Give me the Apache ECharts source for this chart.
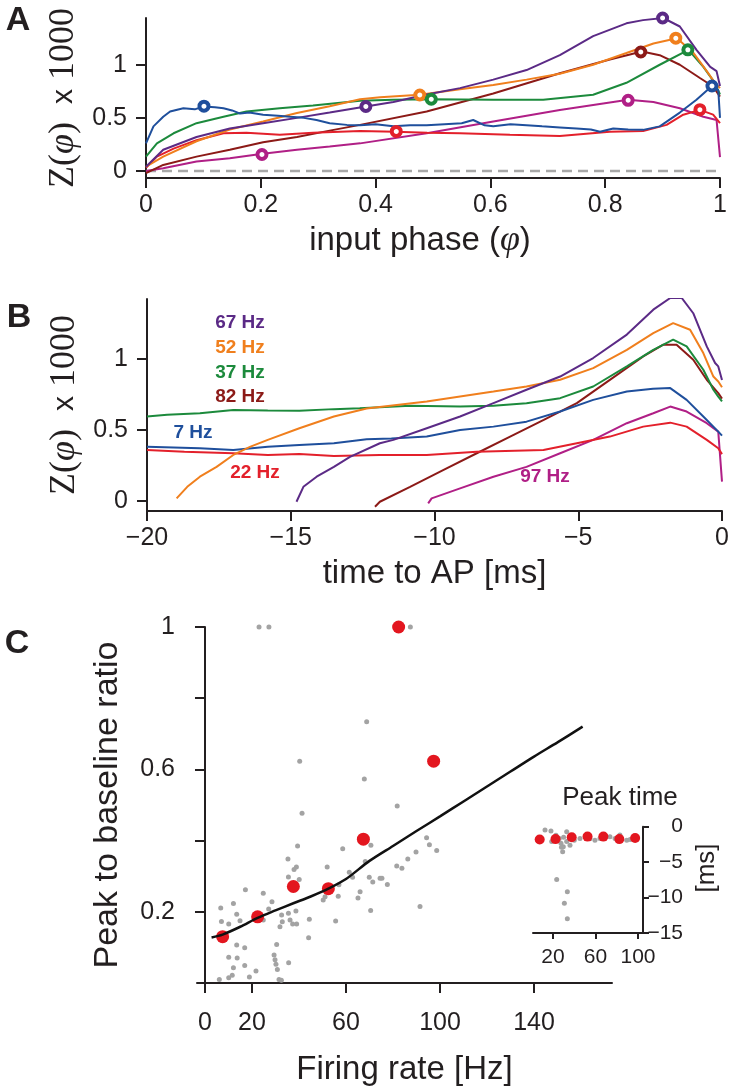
<!DOCTYPE html>
<html>
<head>
<meta charset="utf-8">
<script src="https://cdn.jsdelivr.net/npm/echarts@6/dist/echarts.min.js"></script>
<style>
html, body { margin: 0; padding: 0; background: #fff; }
#chart { width: 733px; height: 1092px; }
</style>
</head>
<body>
<div id="chart"></div>
<script>
const SANS = "'Liberation Sans', Arial, Helvetica, sans-serif"
const SERIF = "'Liberation Serif', 'Times New Roman', serif"
const INK = '#231f20'

// colours per firing rate
const BLUE = '#1f4f9c'
const RED = '#e3202b'
const GREEN = '#1c8a3c'
const ORANGE = '#f07f1d'
const PURPLE = '#5b2a86'
const BROWN = '#8c1a17'
const MAGENTA = '#b01f86'

// A: Z(phi) x 1000 against input phase, [phase, Z]
const phaseCurve7 = [[0, 0.26], [0.013, 0.42], [0.03, 0.51], [0.042, 0.56], [0.065, 0.59], [0.085, 0.58], [0.1, 0.607], [0.12, 0.6], [0.135, 0.59], [0.15, 0.57], [0.164, 0.54], [0.18, 0.55], [0.204, 0.53], [0.23, 0.52], [0.251, 0.51], [0.275, 0.5], [0.297, 0.48], [0.32, 0.45], [0.35, 0.434], [0.373, 0.43], [0.4, 0.44], [0.431, 0.42], [0.46, 0.43], [0.489, 0.43], [0.52, 0.44], [0.55, 0.45], [0.57, 0.48], [0.59, 0.43], [0.605, 0.42], [0.635, 0.44], [0.663, 0.43], [0.69, 0.42], [0.721, 0.41], [0.75, 0.4], [0.775, 0.39], [0.791, 0.37], [0.814, 0.4], [0.84, 0.39], [0.866, 0.387], [0.895, 0.42], [0.93, 0.55], [0.959, 0.67], [0.985, 0.795], [0.997, 0.76], [1, 0.5]]
const phaseCurve22 = [[0, 0.03], [0.019, 0.135], [0.048, 0.21], [0.088, 0.29], [0.135, 0.355], [0.175, 0.36], [0.233, 0.34], [0.291, 0.36], [0.373, 0.377], [0.434, 0.37], [0.49, 0.36], [0.547, 0.355], [0.634, 0.34], [0.721, 0.33], [0.808, 0.37], [0.866, 0.377], [0.907, 0.434], [0.936, 0.53], [0.965, 0.575], [0.988, 0.53], [1, 0.45]]
const phaseCurve37 = [[0, 0.135], [0.019, 0.26], [0.048, 0.355], [0.088, 0.45], [0.135, 0.51], [0.175, 0.56], [0.233, 0.59], [0.291, 0.616], [0.373, 0.66], [0.431, 0.67], [0.498, 0.676], [0.605, 0.67], [0.692, 0.67], [0.779, 0.717], [0.837, 0.83], [0.895, 1.0], [0.945, 1.14], [0.971, 0.98], [0.991, 0.83], [1, 0.72]]
const phaseCurve52 = [[0, 0.04], [0.03, 0.135], [0.088, 0.28], [0.146, 0.39], [0.204, 0.465], [0.263, 0.545], [0.32, 0.61], [0.373, 0.676], [0.408, 0.695], [0.477, 0.717], [0.547, 0.77], [0.605, 0.81], [0.663, 0.86], [0.721, 0.915], [0.779, 1.0], [0.837, 1.11], [0.884, 1.2], [0.925, 1.25], [0.954, 1.11], [0.977, 0.94], [0.991, 0.83], [1, 0.78]]
const phaseCurve67 = [[0, 0.04], [0.03, 0.2], [0.088, 0.32], [0.146, 0.4], [0.204, 0.45], [0.263, 0.5], [0.32, 0.55], [0.383, 0.607], [0.431, 0.65], [0.489, 0.72], [0.547, 0.78], [0.605, 0.86], [0.663, 0.95], [0.721, 1.09], [0.779, 1.27], [0.837, 1.39], [0.866, 1.42], [0.901, 1.44], [0.93, 1.36], [0.959, 1.14], [0.983, 0.98], [0.994, 0.94], [1, 0.8]]
const phaseCurve82 = [[0, -0.02], [0.03, 0.057], [0.088, 0.135], [0.146, 0.2], [0.204, 0.27], [0.263, 0.32], [0.32, 0.38], [0.373, 0.434], [0.489, 0.56], [0.605, 0.73], [0.721, 0.92], [0.808, 1.05], [0.864, 1.125], [0.895, 1.09], [0.93, 1.0], [0.965, 0.875], [0.988, 0.795], [1, 0.7]]
const phaseCurve97 = [[0, 0], [0.03, 0.025], [0.088, 0.09], [0.146, 0.12], [0.2, 0.16], [0.263, 0.2], [0.32, 0.23], [0.373, 0.26], [0.489, 0.355], [0.605, 0.465], [0.721, 0.575], [0.84, 0.67], [0.884, 0.65], [0.93, 0.59], [0.971, 0.51], [0.994, 0.48], [1, 0.13]]
const zeroLineA = [[0, 0], [1, 0]]

// A: open circle markers [phase, Z]
const markBlue = [[0.101, 0.61], [0.986, 0.8]]
const markMagenta = [[0.202, 0.155], [0.84, 0.665]]
const markPurple = [[0.383, 0.607], [0.9, 1.44]]
const markRed = [[0.436, 0.372], [0.965, 0.577]]
const markOrange = [[0.477, 0.715], [0.923, 1.25]]
const markGreen = [[0.497, 0.675], [0.944, 1.14]]
const markBrown = [[0.862, 1.12]]

// B: same curves against time to AP, [ms, Z]
const timeCurve7 = [[-20, 0.382], [-18.16, 0.371], [-17, 0.359], [-15.8, 0.382], [-14.7, 0.394], [-13.5, 0.406], [-12.36, 0.434], [-11.5, 0.44], [-10.27, 0.453], [-9.11, 0.5], [-7.95, 0.523], [-6.8, 0.558], [-5.63, 0.629], [-4.48, 0.711], [-3.31, 0.77], [-2.4, 0.79], [-1.8, 0.794], [-1.23, 0.711], [-0.53, 0.57], [-0.13, 0.488], [0, 0.46]]
const timeCurve22 = [[-20, 0.359], [-18.7, 0.347], [-17, 0.336], [-15.8, 0.324], [-14.7, 0.331], [-13.5, 0.317], [-11.9, 0.324], [-10.27, 0.324], [-8.53, 0.347], [-6.21, 0.359], [-5.05, 0.406], [-3.9, 0.453], [-2.74, 0.523], [-1.8, 0.551], [-1.23, 0.523], [-0.53, 0.43], [-0.13, 0.371], [0, 0.33]]
const timeCurve37 = [[-20, 0.594], [-19.3, 0.606], [-18.16, 0.617], [-17, 0.64], [-15.8, 0.636], [-14.7, 0.634], [-13.5, 0.646], [-12.6, 0.653], [-10.85, 0.669], [-9.11, 0.664], [-7.95, 0.669], [-6.8, 0.688], [-5.63, 0.723], [-4.48, 0.805], [-3.31, 0.946], [-2.39, 1.063], [-1.7, 1.134], [-1.23, 1.087], [-0.65, 0.923], [-0.3, 0.782], [-0.13, 0.734], [0, 0.7]]
const timeCurve52 = [[-18.97, 0.019], [-18.6, 0.1], [-18.16, 0.171], [-17.58, 0.24], [-17, 0.324], [-16.4, 0.382], [-15.8, 0.43], [-14.7, 0.512], [-13.5, 0.594], [-12.36, 0.65], [-10.27, 0.7], [-7.95, 0.77], [-6.8, 0.805], [-5.63, 0.852], [-4.48, 0.934], [-3.31, 1.063], [-2.39, 1.18], [-1.7, 1.25], [-1.11, 1.204], [-0.65, 1.04], [-0.3, 0.875], [-0.13, 0.84], [0, 0.8]]
const timeCurve67 = [[-14.8, -0.005], [-14.56, 0.1], [-14.1, 0.171], [-13.5, 0.24], [-12.94, 0.31], [-11.9, 0.406], [-11.43, 0.43], [-10.27, 0.512], [-9.11, 0.594], [-7.95, 0.688], [-6.8, 0.782], [-5.63, 0.875], [-4.48, 1.005], [-3.31, 1.17], [-2.39, 1.345], [-1.8, 1.427], [-1.4, 1.427], [-1.0, 1.32], [-0.53, 1.087], [-0.24, 0.97], [-0.13, 0.946], [0, 0.85]]
const timeCurve82 = [[-12.07, -0.04], [-11.9, -0.005], [-10.85, 0.1], [-9.7, 0.218], [-8.53, 0.336], [-7.37, 0.453], [-6.2, 0.57], [-5.05, 0.688], [-3.9, 0.852], [-2.74, 1.016], [-2.04, 1.099], [-1.58, 1.099], [-1.0, 0.993], [-0.53, 0.852], [-0.13, 0.758], [0, 0.72]]
const timeCurve97 = [[-10.22, -0.016], [-10.1, 0.019], [-9.11, 0.089], [-7.95, 0.171], [-6.8, 0.24], [-5.63, 0.336], [-4.48, 0.43], [-3.31, 0.547], [-2.39, 0.617], [-1.8, 0.664], [-1.23, 0.629], [-0.53, 0.547], [-0.13, 0.488], [0, 0.136]]

// C: peak to baseline ratio against firing rate
const rateMean = [7.5, 22.4, 37.6, 52.5, 67.4, 82.4, 97.3]
const ratioMean = [0.13, 0.186, 0.271, 0.265, 0.404, 1.0, 0.623]
const peakTimeMean = [-1.8, -1.75, -1.5, -1.4, -1.4, -1.75, -1.6]
const cellRatio = [[23, 1.0], [27.2, 1.0], [87.4, 1.0], [68.8, 0.734], [40.3, 0.623], [67.8, 0.573], [41.3, 0.477], [81.8, 0.497], [39.4, 0.385], [70.6, 0.387], [58.6, 0.377], [94.3, 0.408], [95.5, 0.388], [98.6, 0.372], [89.8, 0.368], [86.3, 0.348], [35.3, 0.348], [38.9, 0.326], [37.9, 0.319], [52, 0.326], [68.2, 0.341], [81.6, 0.329], [83.8, 0.322], [61.4, 0.311], [62.8, 0.297], [35.5, 0.298], [40.1, 0.291], [74.5, 0.294], [75.3, 0.294], [69.9, 0.297], [71.4, 0.284], [77.6, 0.277], [57, 0.276], [24.8, 0.252], [17.2, 0.262], [28.5, 0.228], [27.1, 0.208], [32.6, 0.191], [35.5, 0.196], [38.7, 0.202], [32.9, 0.172], [36.2, 0.177], [37.3, 0.166], [39, 0.166], [31.9, 0.158], [44.4, 0.179], [50.3, 0.233], [51.1, 0.242], [56.7, 0.244], [65.1, 0.239], [66, 0.256], [70.5, 0.204], [91.5, 0.215], [55.6, 0.174], [44.1, 0.127], [6.7, 0.211], [7, 0.173], [10.1, 0.166], [12.1, 0.223], [13.5, 0.193], [14.9, 0.175], [24.8, 0.177], [13.5, 0.107], [16.9, 0.099], [30.5, 0.108], [10.1, 0.072], [13.7, 0.07], [12.1, 0.043], [16.9, 0.049], [11.6, 0.022], [10.1, 0.015], [6.1, 0.01], [18.9, 0.017], [21.7, 0.034], [29.4, 0.079], [29.8, 0.065], [30.2, 0.053], [30.8, 0.038], [31.5, 0.01], [32.5, 0.008], [35.6, 0.057]]
const fitRate = [2.8, 7.5, 15, 22.4, 30, 37.6, 45, 52.5, 60, 70, 80, 90, 100, 110, 120, 130, 140, 150, 160.7]
const fitRatio = [0.128, 0.136, 0.158, 0.183, 0.204, 0.224, 0.243, 0.265, 0.292, 0.343, 0.385, 0.427, 0.468, 0.51, 0.552, 0.594, 0.636, 0.676, 0.72]

// C inset: peak time of each cell [Hz, ms]
const cellPeakTime = [[12.5, -0.47], [18.1, -0.6], [32.9, -0.7], [18.8, -2.1], [27.5, -2.35], [29.7, -2.83], [29.1, -3.54], [36, -2.6], [32.9, -2.1], [45.4, -1.65], [59.5, -1.9], [64.2, -1.65], [73.6, -1.41], [83, -1.17], [89.4, -1.9], [92.5, -1.8], [23.5, -7.44], [33.5, -9.19], [30.7, -10.8], [33.5, -13.0], [25.9, -1.65], [22.8, -1.2], [40, -1.9], [54.8, -1.7], [78.4, -1.65], [30, -1.5], [28, -2.9]]

const minus = (v) => String(v).replace('-', '\u2212')

function axisLine(extra) {
  return Object.assign({ show: true, lineStyle: { color: INK, width: 2 } }, extra || {})
}
function axisTick(len, extra) {
  return Object.assign({ show: true, length: len, lineStyle: { color: INK, width: 2 } }, extra || {})
}
function tickLabel(size, extra) {
  return Object.assign({ color: INK, fontFamily: SANS, fontSize: size }, extra || {})
}

const zName = '{s|Z(}{i|\u03c6}{s|)  }{x|x}{s| 1000}'
const zRich = {
  s: { fontFamily: SERIF, fontSize: 36, color: INK },
  i: { fontFamily: SERIF, fontStyle: 'italic', fontSize: 36, color: INK },
  x: { fontFamily: SANS, fontSize: 30, color: INK }
}

function curve(data, color, xi) {
  return {
    type: 'line', data, xAxisIndex: xi, yAxisIndex: xi,
    showSymbol: false, silent: true,
    lineStyle: { color, width: 2 }
  }
}
function rings(data, color) {
  return {
    type: 'scatter', data, xAxisIndex: 0, yAxisIndex: 0, silent: true, z: 5,
    symbol: 'circle', symbolSize: 9,
    itemStyle: { color: '#fff', borderColor: color, borderWidth: 4, opacity: 1 }
  }
}
function label(text, x, y, fill, size, weight) {
  return {
    type: 'text', x, y, silent: true,
    style: {
      text, fill, fontFamily: SANS, fontSize: size, fontWeight: weight || 'normal',
      align: 'center', verticalAlign: 'middle'
    }
  }
}

const chart = echarts.init(document.getElementById('chart'), null, { renderer: 'canvas' })

chart.setOption({
  animation: false,
  backgroundColor: '#fff',
  grid: [
    { left: 146, top: 18, width: 574, height: 160, outerBoundsMode: 'none' },
    { left: 147, top: 299, width: 575, height: 212, outerBoundsMode: 'none' },
    { left: 197, top: 627, width: 415, height: 356, outerBoundsMode: 'none' },
    { left: 533, top: 826.7, width: 110, height: 106.3, outerBoundsMode: 'none' }
  ],
  xAxis: [
    {
      gridIndex: 0, type: 'value', min: 0, max: 1, interval: 0.2,
      axisLine: axisLine({ onZero: false }), axisTick: axisTick(10),
      axisLabel: tickLabel(25, { margin: 15 }), splitLine: { show: false },
      name: '{t|input phase (}{i|\u03c6}{t|)}', nameLocation: 'middle', nameGap: 45,
      nameTextStyle: {
        padding: [0, 26, 0, 0],
        rich: {
          t: { fontFamily: SANS, fontSize: 33, color: INK },
          i: { fontFamily: SERIF, fontStyle: 'italic', fontSize: 36, color: INK }
        }
      }
    },
    {
      gridIndex: 1, type: 'value', min: -20, max: 0, interval: 5,
      axisLine: axisLine({ onZero: false }), axisTick: axisTick(10),
      axisLabel: tickLabel(25, { margin: 15, formatter: minus }), splitLine: { show: false },
      name: 'time to AP [ms]', nameLocation: 'middle', nameGap: 46,
      nameTextStyle: { fontFamily: SANS, fontSize: 33, color: INK }
    },
    {
      gridIndex: 2, type: 'value', min: -3.4, max: 173.2,
      axisLine: axisLine(), axisTick: axisTick(10, { customValues: [0, 20, 60, 100, 140] }),
      axisLabel: tickLabel(25, { margin: 28, customValues: [0, 20, 60, 100, 140] }), splitLine: { show: false },
      name: 'Firing rate [Hz]', nameLocation: 'middle', nameGap: 70,
      nameTextStyle: { fontFamily: SANS, fontSize: 33, color: INK }
    },
    {
      gridIndex: 3, type: 'value', min: 1.2, max: 104.7,
      axisLine: axisLine({ onZero: false }), axisTick: axisTick(6, { customValues: [20, 60, 100] }),
      axisLabel: tickLabel(21, { margin: 14, customValues: [20, 60, 100] }), splitLine: { show: false }
    }
  ],
  yAxis: [
    {
      gridIndex: 0, type: 'value', min: -0.066, max: 1.44,
      axisLine: axisLine({ onZero: false }), axisTick: axisTick(10, { customValues: [0, 0.5, 1] }),
      axisLabel: tickLabel(25, { margin: 19, customValues: [0, 0.5, 1] }), splitLine: { show: false },
      name: zName, nameLocation: 'middle', nameRotate: 90, nameGap: 60,
      nameTextStyle: { rich: zRich }
    },
    {
      gridIndex: 1, type: 'value', min: -0.07, max: 1.42,
      axisLine: axisLine({ onZero: false }), axisTick: axisTick(10, { customValues: [0, 0.5, 1] }),
      axisLabel: tickLabel(25, { margin: 19, customValues: [0, 0.5, 1] }), splitLine: { show: false },
      name: zName, nameLocation: 'middle', nameRotate: 90, nameGap: 60,
      nameTextStyle: { rich: zRich }
    },
    {
      gridIndex: 2, type: 'value', min: 0, max: 1,
      axisLine: axisLine(), axisTick: axisTick(10, { customValues: [0.2, 0.4, 0.6, 0.8, 1] }),
      axisLabel: tickLabel(25, { margin: 22, customValues: [0.2, 0.6, 1] }), splitLine: { show: false },
      name: 'Peak to baseline ratio', nameLocation: 'middle', nameRotate: 90, nameGap: 72,
      nameTextStyle: { fontFamily: SANS, fontSize: 34, color: INK }
    },
    {
      gridIndex: 3, type: 'value', min: -15, max: 0, interval: 5, position: 'right',
      axisLine: axisLine({ onZero: false }), axisTick: axisTick(6),
      axisLabel: tickLabel(21, { margin: 40, align: 'right', formatter: minus }), splitLine: { show: false }
    }
  ],
  series: [
    {
      type: 'line', data: zeroLineA, xAxisIndex: 0, yAxisIndex: 0, showSymbol: false, silent: true,
      lineStyle: { color: '#a8a8a8', width: 2.5, type: [10, 6] }
    },
    curve(phaseCurve97, MAGENTA, 0),
    curve(phaseCurve82, BROWN, 0),
    curve(phaseCurve22, RED, 0),
    curve(phaseCurve37, GREEN, 0),
    curve(phaseCurve52, ORANGE, 0),
    curve(phaseCurve67, PURPLE, 0),
    curve(phaseCurve7, BLUE, 0),
    rings(markBlue, BLUE),
    rings(markMagenta, MAGENTA),
    rings(markPurple, PURPLE),
    rings(markRed, RED),
    rings(markOrange, ORANGE),
    rings(markGreen, GREEN),
    rings(markBrown, BROWN),

    curve(timeCurve97, MAGENTA, 1),
    curve(timeCurve82, BROWN, 1),
    curve(timeCurve22, RED, 1),
    curve(timeCurve7, BLUE, 1),
    curve(timeCurve37, GREEN, 1),
    curve(timeCurve52, ORANGE, 1),
    curve(timeCurve67, PURPLE, 1),

    {
      type: 'scatter', data: cellRatio, xAxisIndex: 2, yAxisIndex: 2, silent: true,
      symbolSize: 5, itemStyle: { color: '#a3a3a3', opacity: 1 }
    },
    {
      type: 'line', data: fitRate.map((r, i) => [r, fitRatio[i]]), xAxisIndex: 2, yAxisIndex: 2,
      showSymbol: false, silent: true, smooth: 0.3, lineStyle: { color: '#111', width: 2.5 }
    },
    {
      type: 'scatter', data: rateMean.map((r, i) => [r, ratioMean[i]]), xAxisIndex: 2, yAxisIndex: 2, silent: true,
      symbolSize: 13, itemStyle: { color: '#e3161f', opacity: 1 }
    },
    {
      type: 'scatter', data: cellPeakTime, xAxisIndex: 3, yAxisIndex: 3, silent: true,
      symbolSize: 5, itemStyle: { color: '#a3a3a3', opacity: 1 }
    },
    {
      type: 'scatter', data: rateMean.map((r, i) => [r, peakTimeMean[i]]), xAxisIndex: 3, yAxisIndex: 3, silent: true,
      symbolSize: 10, itemStyle: { color: '#e3161f', opacity: 1 }
    }
  ],
  graphic: [
    label('A', 18, 21, INK, 34, 'bold'),
    label('B', 19, 318, INK, 34, 'bold'),
    label('C', 17, 644, INK, 34, 'bold'),
    label('67 Hz', 240, 323, PURPLE, 19, 'bold'),
    label('52 Hz', 240, 348, ORANGE, 19, 'bold'),
    label('37 Hz', 240, 373, GREEN, 19, 'bold'),
    label('82 Hz', 240, 397, BROWN, 19, 'bold'),
    label('7 Hz', 193, 433, BLUE, 19, 'bold'),
    label('22 Hz', 255, 473, RED, 19, 'bold'),
    label('97 Hz', 545, 477, MAGENTA, 19, 'bold'),
    label('Peak time', 620, 798, INK, 26),
    Object.assign(label('[ms]', 707, 868, INK, 26), { rotation: Math.PI / 2 })
  ]
})
</script>
</body>
</html>
